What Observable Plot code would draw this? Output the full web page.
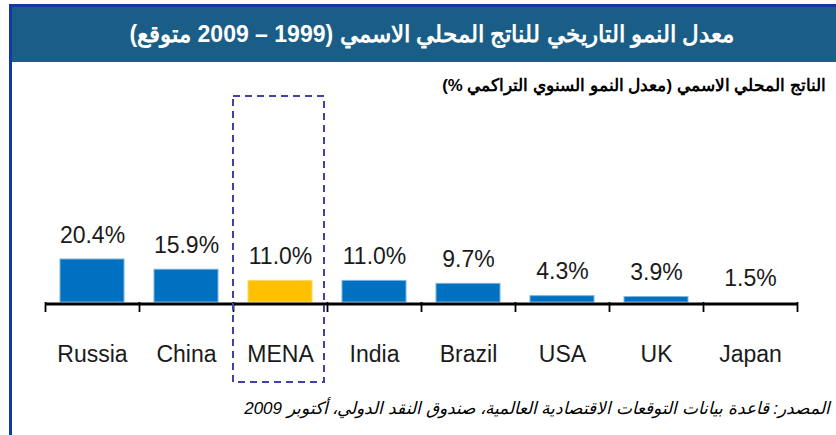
<!DOCTYPE html>
<html>
<head>
<meta charset="utf-8">
<script src="https://cdn.jsdelivr.net/npm/d3@7"></script>
<script src="https://cdn.jsdelivr.net/npm/@observablehq/plot@0.6"></script>
<style>
  html, body { margin: 0; padding: 0; background: #fff; }
  #wrap { position: relative; width: 836px; height: 435px; overflow: hidden; font-family: "Liberation Sans", Arial, sans-serif; }
  #chart { position: absolute; left: 0; top: 0; }
  #topline { position: absolute; left: 9px; top: 4px; width: 827px; height: 3px; background: #1238A3; }
  #leftline { position: absolute; left: 9px; top: 4px; width: 3px; height: 431px; background: #1238A3; }
  #title { position: absolute; left: 12px; top: 7px; width: 824px; height: 55px; background: #1A5E87; color: #fff;
           font-weight: bold; font-size: 23px; line-height: 55px; text-align: center; direction: rtl; padding-left: 16px; box-sizing: border-box; }
  #subtitle { position: absolute; right: 10px; top: 75px; font-weight: bold; font-size: 16.8px; color: #000; direction: rtl; white-space: nowrap; }
  #caption { position: absolute; right: 6px; top: 398px; font-style: italic; font-size: 17px; color: #000; direction: rtl; white-space: nowrap; }
</style>
</head>
<body>
<div id="wrap">
  <div id="chart"></div>
  <div id="topline"></div>
  <div id="title"></div>
  <div id="leftline"></div>
  <div id="subtitle"></div>
  <div id="caption"></div>
</div>
<script>
const titleText = "معدل النمو التاريخي للناتج المحلي الاسمي (1999 – 2009 متوقع)";
const subtitleText = "الناتج المحلي الاسمي (معدل النمو السنوي التراكمي %)";
const captionText = "المصدر: قاعدة بيانات التوقعات الاقتصادية العالمية، صندوق النقد الدولي، أكتوبر 2009";

const countries = ["Russia", "China", "MENA", "India", "Brazil", "USA", "UK", "Japan"];
const growth = [20.4, 15.9, 11.0, 11.0, 9.7, 4.3, 3.9, 1.5];
const valueLabels = ["20.4%", "15.9%", "11.0%", "11.0%", "9.7%", "4.3%", "3.9%", "1.5%"];
const highlight = "MENA";

document.getElementById("title").textContent = titleText;
document.getElementById("subtitle").textContent = subtitleText;
document.getElementById("caption").textContent = captionText;

const data = countries.map((c, i) => ({country: c, value: growth[i], label: valueLabels[i]}));
const yBase = d3.min(growth);
const yTop = d3.max(growth);
const lastCountry = countries[countries.length - 1];

const chart = Plot.plot({
  width: 836,
  height: 435,
  marginLeft: 45,
  marginRight: 39,
  marginTop: 259,
  marginBottom: 133,
  style: {background: "transparent", fontFamily: "Liberation Sans, Arial, sans-serif"},
  x: {domain: countries, padding: 0, label: null},
  y: {domain: [yBase, yTop], axis: null},
  marks: [
    Plot.barY(data, {
      x: "country", y1: yBase, y2: "value",
      fill: d => d.country === highlight ? "#FFC000" : "#0070C0",
      stroke: d => d.country === highlight ? "#FFD966" : "#7FB3E0",
      strokeWidth: 1,
      insetLeft: 15, insetRight: 15
    }),
    Plot.ruleY([yBase], {stroke: "#000", strokeWidth: 3, dy: 1.5}),
    Plot.ruleX(countries, {x: d => d, y1: yBase, y2: yBase, insetBottom: -10, dx: -47, stroke: "#000", strokeWidth: 1.8}),
    Plot.ruleX([lastCountry], {x: d => d, y1: yBase, y2: yBase, insetBottom: -10, dx: 47, stroke: "#000", strokeWidth: 1.8}),
    Plot.text(data, {
      x: "country", y: "value", text: "label",
      lineAnchor: "bottom", dy: -17,
      fontSize: 23, fill: "#1a1a1a"
    }),
    Plot.axisX({tickSize: 0, tickPadding: 43, fontSize: 23, fill: "#1a1a1a", label: null}),
    Plot.barY([highlight], {
      x: d => d, y1: yBase, y2: yBase,
      insetTop: -206, insetBottom: -80, insetLeft: 0, insetRight: 3,
      fill: "none", stroke: "#4141A8", strokeWidth: 2, strokeDasharray: "7,5"
    })
  ]
});
document.getElementById("chart").appendChild(chart);
</script>
</body>
</html>
